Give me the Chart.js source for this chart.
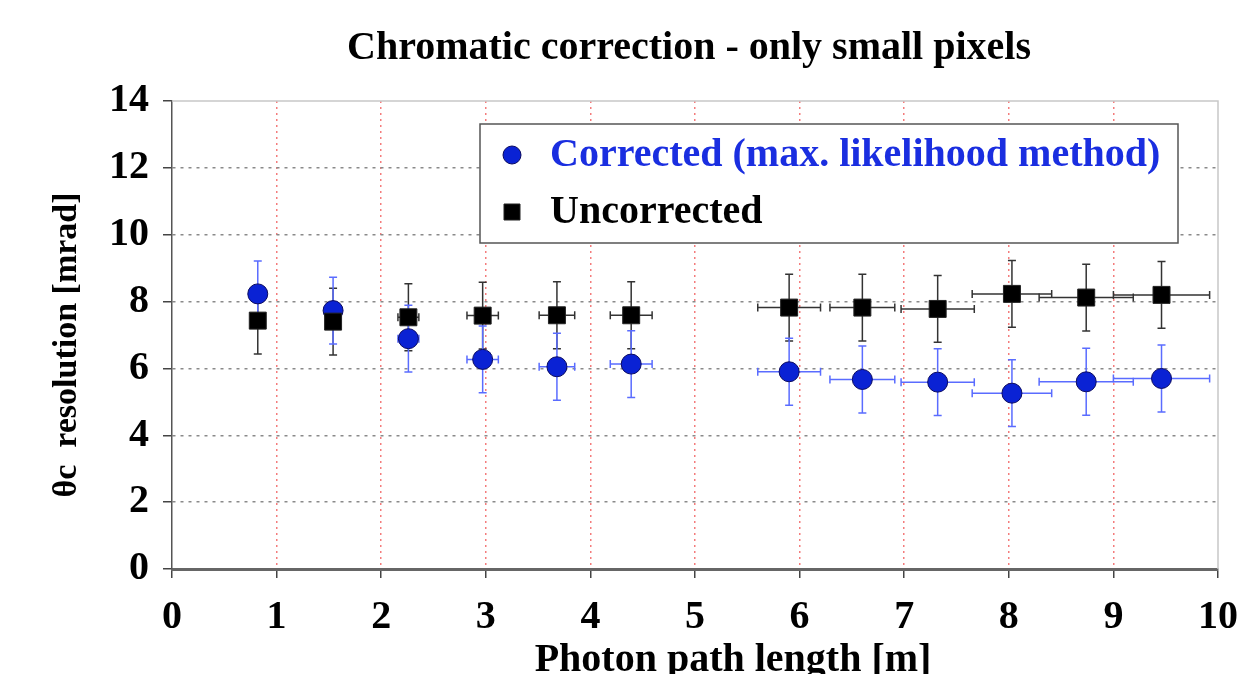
<!DOCTYPE html>
<html>
<head>
<meta charset="utf-8">
<script src="https://cdn.jsdelivr.net/npm/chart.js@4/dist/chart.umd.min.js"></script>
<style>
  html, body { margin: 0; padding: 0; background: #fff; }
  #wrap { width: 1242px; height: 674px; }
</style>
</head>
<body>
<div id="wrap"><canvas id="myChart" width="1242" height="674"></canvas></div>
<script>
// photon path length [m] and its spread
const pathLength = [0.82, 1.54, 2.26, 2.97, 3.68, 4.39, 5.90, 6.60, 7.32, 8.03, 8.74, 9.46];
const pathErr = [0, 0, 0.10, 0.15, 0.17, 0.20, 0.30, 0.31, 0.35, 0.38, 0.45, 0.46];

// theta_c resolution [mrad]
const corrected = [8.23, 7.73, 6.89, 6.27, 6.05, 6.13, 5.90, 5.67, 5.59, 5.26, 5.60, 5.70];
const correctedErr = [0.98, 1.0, 1.0, 1.0, 1.0, 1.0, 1.0, 1.0, 1.0, 1.0, 1.0, 1.0];
const uncorrected = [7.43, 7.40, 7.53, 7.58, 7.59, 7.59, 7.82, 7.82, 7.78, 8.23, 8.12, 8.20];
const uncorrectedErr = [1.0, 1.0, 1.0, 1.0, 1.0, 1.0, 1.0, 1.0, 1.0, 1.0, 1.0, 1.0];

const xTicks = [0, 1, 2, 3, 4, 5, 6, 7, 8, 9, 10];
const yTicks = [0, 2, 4, 6, 8, 10, 12, 14];

const serif = "'Liberation Serif', 'Times New Roman', serif";

function points(ys, yErr) {
  return pathLength.map((x, i) => ({ x: x, y: ys[i], xErr: pathErr[i], yErr: yErr[i] }));
}

// error bars, drawn under the markers
const errorBars = {
  id: "errorBars",
  beforeDatasetsDraw(chart) {
    const ctx = chart.ctx;
    const xs = chart.scales.x;
    const ys = chart.scales.y;
    chart.data.datasets.forEach((ds) => {
      ctx.save();
      ctx.strokeStyle = ds.errColor;
      ctx.lineWidth = 1.5;
      const cap = 4;
      ds.data.forEach((p) => {
        const px = xs.getPixelForValue(p.x);
        const py = ys.getPixelForValue(p.y);
        ctx.beginPath();
        if (p.yErr) {
          const t = ys.getPixelForValue(p.y + p.yErr);
          const b = ys.getPixelForValue(p.y - p.yErr);
          ctx.moveTo(px, t); ctx.lineTo(px, b);
          ctx.moveTo(px - cap, t); ctx.lineTo(px + cap, t);
          ctx.moveTo(px - cap, b); ctx.lineTo(px + cap, b);
        }
        if (p.xErr) {
          const l = xs.getPixelForValue(p.x - p.xErr);
          const r = xs.getPixelForValue(p.x + p.xErr);
          ctx.moveTo(l, py); ctx.lineTo(r, py);
          ctx.moveTo(l, py - cap); ctx.lineTo(l, py + cap);
          ctx.moveTo(r, py - cap); ctx.lineTo(r, py + cap);
        }
        ctx.stroke();
      });
      ctx.restore();
    });
  },
};

// light frame on top/right of plot
const frame = {
  id: "frame",
  beforeDatasetsDraw(chart) {
    const { ctx, chartArea: a } = chart;
    ctx.save();
    ctx.strokeStyle = "#c8c8c8";
    ctx.lineWidth = 1.5;
    ctx.beginPath();
    ctx.moveTo(a.left, a.top);
    ctx.lineTo(a.right, a.top);
    ctx.lineTo(a.right, a.bottom);
    ctx.stroke();
    ctx.restore();
  },
};

// chart title and axis titles, placed a bit off-centre like the original
const titles = {
  id: "titles",
  afterDraw(chart) {
    const ctx = chart.ctx;
    ctx.save();
    ctx.fillStyle = "#000";
    ctx.textAlign = "center";
    ctx.textBaseline = "middle";
    ctx.font = "bold 40px " + serif;
    ctx.fillText("Chromatic correction - only small pixels", 689, 49);
    ctx.fillText("Photon path length [m]", 733, 661);
    ctx.translate(67, 345);
    ctx.rotate(-Math.PI / 2);
    ctx.font = "bold 34px " + serif;
    ctx.fillText("θc  resolution [mrad]", 0, 0);
    ctx.restore();
  },
};

// boxed legend inside the plot
const boxLegend = {
  id: "boxLegend",
  afterDraw(chart) {
    const ctx = chart.ctx;
    const box = { x: 480, y: 124, w: 698, h: 119 };
    ctx.save();
    ctx.fillStyle = "#fff";
    ctx.strokeStyle = "#555";
    ctx.lineWidth = 1.5;
    ctx.fillRect(box.x, box.y, box.w, box.h);
    ctx.strokeRect(box.x, box.y, box.w, box.h);
    ctx.font = "bold 40px " + serif;
    ctx.textBaseline = "middle";
    const rows = [chart.data.datasets[1], chart.data.datasets[0]];
    rows.forEach((ds, i) => {
      const cy = box.y + 31 + i * 57;
      const mx = box.x + 32;
      ctx.fillStyle = ds.backgroundColor;
      ctx.strokeStyle = ds.borderColor;
      ctx.lineWidth = 1;
      ctx.beginPath();
      if (ds.pointStyle === "rect") {
        ctx.rect(mx - 8, cy - 8, 16, 16);
      } else {
        ctx.arc(mx, cy, 9, 0, Math.PI * 2);
      }
      ctx.fill();
      ctx.stroke();
      ctx.fillStyle = ds.labelColor;
      ctx.fillText(ds.label, box.x + 70, cy + 1);
    });
    ctx.restore();
  },
};

const gridOpts = (color) => ({
  color: (c) => (c.tick && (c.index === 0 || c.index === c.chart.scales[c.scale.id].ticks.length - 1)) ? "rgba(0,0,0,0)" : color,
  lineWidth: 1.5,
  tickColor: "#444",
  tickLength: 9,
  tickWidth: 1.5,
  tickBorderDash: [],
});

new Chart(document.getElementById("myChart"), {
  type: "scatter",
  data: {
    datasets: [
      {
        label: "Uncorrected",
        data: points(uncorrected, uncorrectedErr),
        pointStyle: "rect",
        pointRadius: 12,
        pointHoverRadius: 12,
        backgroundColor: "#000000",
        borderColor: "#222222",
        borderWidth: 1,
        errColor: "#333333",
        labelColor: "#000000",
        order: 0,
      },
      {
        label: "Corrected (max. likelihood method)",
        data: points(corrected, correctedErr),
        pointStyle: "circle",
        pointRadius: 10,
        pointHoverRadius: 10,
        backgroundColor: "#0a22d4",
        borderColor: "#0a0a60",
        borderWidth: 1,
        errColor: "#5a6cff",
        labelColor: "#1a2ee0",
        order: 1,
      },
    ],
  },
  plugins: [frame, errorBars, boxLegend, titles],
  options: {
    responsive: false,
    animation: false,
    layout: { padding: { left: 0, right: 24, top: 101, bottom: 0 } },
    plugins: {
      legend: { display: false },
      tooltip: { enabled: false },
      title: { display: false },
    },
    scales: {
      x: {
        type: "linear",
        min: 0,
        max: 10,
        afterFit: (s) => { s.height = 105; s.paddingLeft = 0; s.paddingRight = 0; },
        afterBuildTicks: (s) => { s.ticks = xTicks.map((v) => ({ value: v })); },
        ticks: {
          color: "#000",
          font: { family: serif, size: 40, weight: "bold" },
          padding: 16,
          maxRotation: 0,
        },
        grid: gridOpts("rgba(240,80,80,0.75)"),
        border: { display: true, color: "#666", width: 3, dash: [2, 4] },
        title: { display: false },
      },
      y: {
        min: 0,
        max: 14,
        afterFit: (s) => { s.width = 172; s.paddingTop = 0; s.paddingBottom = 0; },
        afterBuildTicks: (s) => { s.ticks = yTicks.map((v) => ({ value: v })); },
        ticks: {
          color: "#000",
          font: { family: serif, size: 40, weight: "bold" },
          padding: 14,
        },
        grid: gridOpts("#8a8a8a"),
        border: { display: true, color: "#555", width: 1.5, dash: [3, 5] },
        title: { display: false },
      },
    },
  },
});
</script>
</body>
</html>
